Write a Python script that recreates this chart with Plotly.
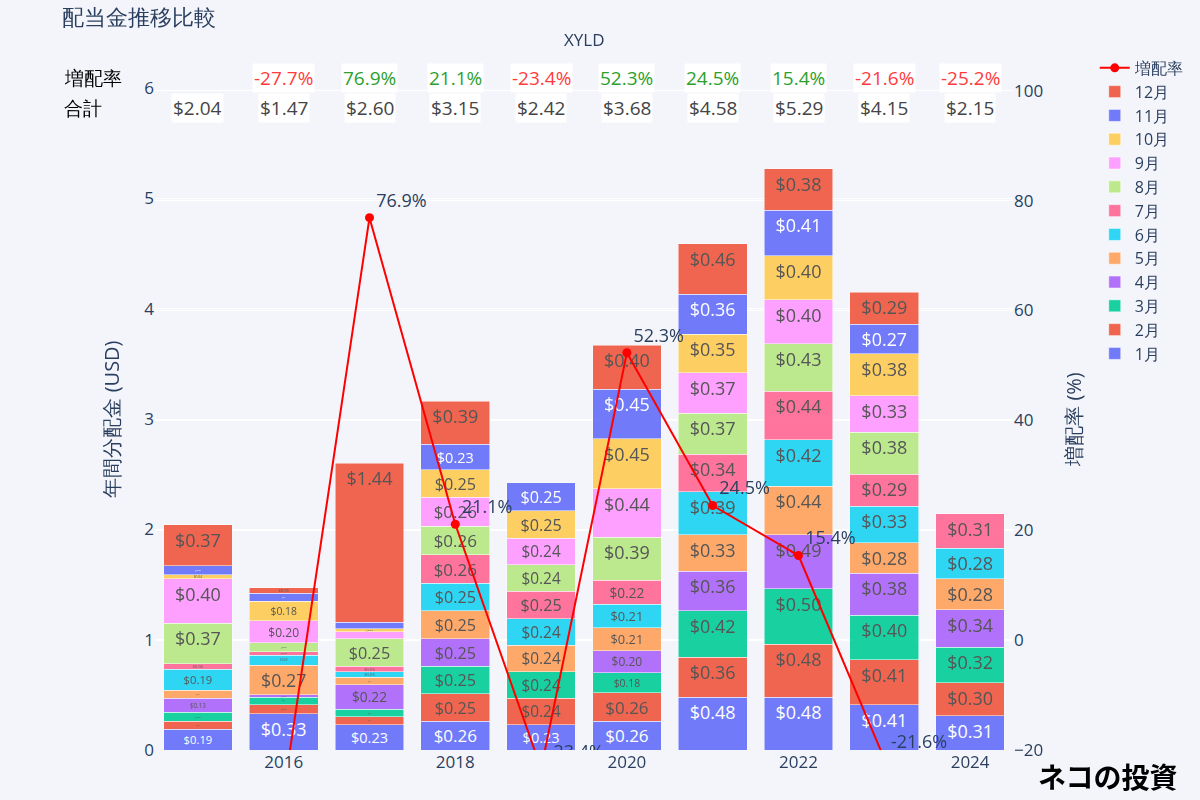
import plotly.graph_objects as go

years = [2015, 2016, 2017, 2018, 2019, 2020, 2021, 2022, 2023, 2024]
months = ["1月", "2月", "3月", "4月", "5月", "6月", "7月", "8月", "9月", "10月", "11月", "12月"]

m1 = [0.19, 0.33, 0.23, 0.26, 0.23, 0.26, 0.48, 0.48, 0.41, 0.31]
m2 = [0.07, 0.08, 0.07, 0.25, 0.24, 0.26, 0.36, 0.48, 0.41, 0.30]
m3 = [0.08, 0.07, 0.07, 0.25, 0.24, 0.18, 0.42, 0.50, 0.40, 0.32]
m4 = [0.13, 0.02, 0.22, 0.25, None, 0.20, 0.36, 0.49, 0.38, 0.34]
m5 = [0.07, 0.27, 0.07, 0.25, 0.24, 0.21, 0.33, 0.44, 0.28, 0.28]
m6 = [0.19, 0.09, 0.05, 0.25, 0.24, 0.21, 0.39, 0.42, 0.33, 0.28]
m7 = [0.05, 0.03, 0.05, 0.26, 0.25, 0.22, 0.34, 0.44, 0.29, 0.31]
m8 = [0.37, 0.08, 0.25, 0.26, 0.24, 0.39, 0.37, 0.43, 0.38, None]
m9 = [0.40, 0.20, 0.06, 0.26, 0.24, 0.44, 0.37, 0.40, 0.33, None]
m10 = [0.04, 0.18, 0.03, 0.25, 0.25, 0.45, 0.35, 0.40, 0.38, None]
m11 = [0.08, 0.07, 0.06, 0.23, 0.25, 0.45, 0.36, 0.41, 0.27, None]
m12 = [0.37, 0.05, 1.44, 0.39, None, 0.40, 0.46, 0.38, 0.29, None]
monthly = [m1, m2, m3, m4, m5, m6, m7, m8, m9, m10, m11, m12]

totals = [2.04, 1.47, 2.60, 3.15, 2.42, 3.68, 4.58, 5.29, 4.15, 2.15]
growth = [None, -27.7, 76.9, 21.1, -23.4, 52.3, 24.5, 15.4, -21.6, -25.2]

colors = ["#636EFA", "#EF553B", "#00CC96", "#AB63FA", "#FFA15A", "#19D3F3",
          "#FF6692", "#B6E880", "#FF97FF", "#FECB52", "#636EFA", "#EF553B"]

BG = "#f4f5fa"
fig = go.Figure()
for name, vals, col in zip(months, monthly, colors):
    fig.add_trace(go.Bar(
        x=years, y=vals, name=name, marker_color=col, opacity=0.9,
        texttemplate="$%{y:.2f}", textposition="inside", textangle=0,
        insidetextanchor="end", textfont=dict(size=18),
        marker_line_width=0.5, marker_line_color="white",
    ))

fig.add_trace(go.Scatter(
    x=years, y=growth, name="増配率", yaxis="y2", mode="lines+markers+text",
    line=dict(color="red", width=2), marker=dict(color="red", size=9),
    texttemplate="%{y:.1f}%", textposition="top right",
    textfont=dict(size=18, color="#2a3f5f"),
))

annotations = [
    dict(text="増配率", x=-0.108, xanchor="left", xref="paper", y=1.015, yref="paper",
         yanchor="middle", showarrow=False, font=dict(size=19, color="black")),
    dict(text="合計", x=-0.108, xanchor="left", xref="paper", y=0.970, yref="paper",
         yanchor="middle", showarrow=False, font=dict(size=19, color="black")),
    dict(text="XYLD", x=0.5, xref="paper", y=1.074, yref="paper", yanchor="middle",
         showarrow=False, font=dict(size=17, color="#2a3f5f")),
    dict(text="<b>ネコの投資</b>", x=1.193, xref="paper", y=-0.04, yref="paper",
         xanchor="right", yanchor="middle", showarrow=False,
         font=dict(size=28, color="black", family="Noto Sans CJK JP")),
]

for yr, g, t in zip(years, growth, totals):
    if g is not None:
        annotations.append(dict(
            text=f"{g:.1f}%", x=yr, xref="x", y=1.015, yref="paper", yanchor="middle",
            showarrow=False, bgcolor="white",
            font=dict(size=19, color="#2ca02c" if g >= 0 else "#ff3b3b")))
    annotations.append(dict(
        text=f"${t:.2f}", x=yr, xref="x", y=0.970, yref="paper", yanchor="middle",
        showarrow=False, bgcolor="white", font=dict(size=19, color="#444")))

fig.update_layout(
    width=1200, height=800,
    barmode="stack",
    bargap=0.2,
    paper_bgcolor=BG, plot_bgcolor=BG,
    font=dict(size=16, color="#2a3f5f"),
    title=dict(text="配当金推移比較", x=0.052, y=0.979, xanchor="left", yanchor="middle",
               font=dict(size=22, color="#2a3f5f")),
    margin=dict(l=155, r=186, t=88, b=50),
    xaxis=dict(showgrid=False, range=[2014.5, 2024.5], dtick=2, tick0=2016,
               tickfont=dict(size=17)),
    yaxis=dict(title=dict(text="年間分配金 (USD)", font=dict(size=20), standoff=19),
               range=[0, 6], gridcolor="white", dtick=1, zeroline=False,
               tickfont=dict(size=17)),
    yaxis2=dict(title=dict(text="増配率 (%)", font=dict(size=20), standoff=24),
                overlaying="y", side="right",
                range=[-20, 100.5], dtick=20, gridcolor="white", zeroline=False,
                tickfont=dict(size=17)),
    legend=dict(traceorder="reversed", x=1.094, xanchor="left", y=1.056, yanchor="top",
                font=dict(size=16), bgcolor="rgba(0,0,0,0)"),
    annotations=annotations,
)

fig.write_html("out.html", config={"displayModeBar": False},
               post_script="document.body.style.margin='0';")
